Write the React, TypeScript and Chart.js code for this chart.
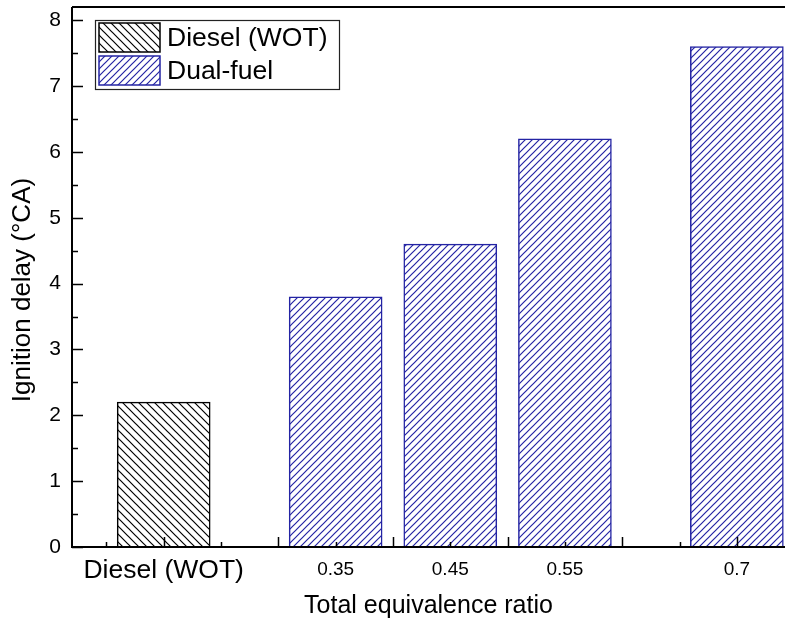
import React, { useEffect, useRef } from 'react';
import { Chart, registerables } from 'chart.js';

Chart.register(...registerables);

// ---- data ----
const categories = ['Diesel (WOT)', '0.35', '0.45', '0.55', '0.7'];
const xSlots = [1, 2.5, 3.5, 4.5, 6];
const dieselValues = [2.2];
const dualFuelValues = [3.8, 4.6, 6.2, 7.6];
const yTickValues = [0, 1, 2, 3, 4, 5, 6, 7, 8];
const seriesLabels = ['Diesel (WOT)', 'Dual-fuel'];
const xTitle = 'Total equivalence ratio';
const yTitle = 'Ignition delay (\u00B0CA)';

const FONT = "'Liberation Sans', Arial, sans-serif";
const BLUE = '#2424a4';

function hatch(color: string, dir: '/' | '\\', s: number): CanvasPattern | string {
  const c = document.createElement('canvas');
  c.width = s;
  c.height = s;
  const g = c.getContext('2d');
  if (!g) return color;
  g.fillStyle = '#ffffff';
  g.fillRect(0, 0, s, s);
  g.strokeStyle = color;
  g.lineWidth = 1.2;
  g.beginPath();
  if (dir === '/') {
    g.moveTo(-1, s + 1); g.lineTo(s + 1, -1);
    g.moveTo(-1, 1); g.lineTo(1, -1);
    g.moveTo(s - 1, s + 1); g.lineTo(s + 1, s - 1);
  } else {
    g.moveTo(-1, -1); g.lineTo(s + 1, s + 1);
    g.moveTo(s - 1, -1); g.lineTo(s + 1, 1);
    g.moveTo(-1, s - 1); g.lineTo(1, s + 1);
  }
  g.stroke();
  const p = g.createPattern(c, 'repeat');
  return p || color;
}

const framePlugin = {
  id: 'frameTicks',
  afterDatasetsDraw(chart: any) {
    const { ctx, chartArea: a, scales } = chart;
    const x = scales.x;
    const y = scales.y;
    ctx.save();
    ctx.strokeStyle = '#000';
    ctx.lineWidth = 1.5;
    ctx.beginPath();
    for (let v = Math.ceil(x.min * 2) / 2; v <= x.max + 1e-9; v += 0.5) {
      const px = Math.round(x.getPixelForValue(v)) + 0.5;
      const len = Math.abs(v - Math.round(v)) < 1e-9 ? 10 : 5;
      ctx.moveTo(px, a.bottom);
      ctx.lineTo(px, a.bottom - len);
    }
    for (let v = 0; v <= y.max + 1e-9; v += 0.5) {
      const py = Math.round(y.getPixelForValue(v)) + 0.5;
      const len = Math.abs(v - Math.round(v)) < 1e-9 ? 11 : 6;
      ctx.moveTo(a.left, py);
      ctx.lineTo(a.left + len, py);
    }
    ctx.stroke();
    ctx.lineWidth = 2;
    ctx.beginPath();
    ctx.moveTo(a.left, a.top);
    ctx.lineTo(a.right, a.top);
    ctx.moveTo(a.left, a.top);
    ctx.lineTo(a.left, a.bottom);
    ctx.lineTo(a.right, a.bottom);
    ctx.stroke();
    ctx.restore();
  },
  afterDraw(chart: any) {
    const { ctx, chartArea: a } = chart;
    // y-axis title
    ctx.save();
    ctx.translate(23, (a.top + a.bottom) / 2 + 13);
    ctx.rotate(-Math.PI / 2);
    ctx.fillStyle = '#000';
    ctx.font = `26px ${FONT}`;
    ctx.textAlign = 'center';
    ctx.textBaseline = 'middle';
    ctx.fillText(yTitle, 0, 0);
    ctx.restore();

    // legend
    const bx = a.left + 23;
    const by = a.top + 13;
    const bw = 244;
    const bh = 69;
    ctx.save();
    ctx.fillStyle = '#fff';
    ctx.fillRect(bx, by, bw, bh);
    ctx.strokeStyle = '#222';
    ctx.lineWidth = 1.2;
    ctx.strokeRect(bx + 0.5, by + 0.5, bw, bh);
    chart.data.datasets.forEach((ds: any, i: number) => {
      const sx = bx + 4;
      const sy = by + 3 + i * 33;
      const sw = 61;
      const sh = 29;
      ctx.fillStyle = ds.backgroundColor;
      ctx.fillRect(sx, sy, sw, sh);
      ctx.strokeStyle = ds.borderColor;
      ctx.lineWidth = 1.5;
      ctx.strokeRect(sx, sy, sw, sh);
      ctx.fillStyle = '#000';
      ctx.font = `26.5px ${FONT}`;
      ctx.textBaseline = 'middle';
      ctx.textAlign = 'left';
      ctx.fillText(ds.label, sx + sw + 7, sy + sh / 2 + 1);
    });
    ctx.restore();
  },
};

export default function App() {
  const ref = useRef<HTMLCanvasElement | null>(null);

  useEffect(() => {
    document.body.style.margin = '0';
    const canvas = ref.current;
    if (!canvas) return;
    const dieselFill = hatch('#000000', '\\', 8);
    const dualFill = hatch(BLUE, '/', 7);

    const chart = new Chart(canvas, {
      type: 'bar',
      data: {
        datasets: [
          {
            label: seriesLabels[0],
            data: dieselValues.map((v, i) => ({ x: xSlots[i], y: v })),
            backgroundColor: dieselFill as any,
            borderColor: '#000000',
            borderWidth: 1.5,
            barThickness: 93,
            grouped: false,
          } as any,
          {
            label: seriesLabels[1],
            data: dualFuelValues.map((v, i) => ({ x: xSlots[i + 1], y: v })),
            backgroundColor: dualFill as any,
            borderColor: BLUE,
            borderWidth: 1.5,
            barThickness: 93,
            grouped: false,
          } as any,
        ],
      },
      options: {
        animation: false,
        responsive: false,
        devicePixelRatio: 1,
        layout: { padding: { top: 7, left: 0, right: 0, bottom: 0 } },
        plugins: { legend: { display: false }, tooltip: { enabled: false } },
        scales: {
          x: {
            type: 'linear',
            offset: false,
            min: 0.2,
            max: 6.42,
            grid: { display: false, drawTicks: false, offset: false },
            border: { display: false },
            afterBuildTicks: (s: any) => {
              s.ticks = xSlots.map((v) => ({ value: v }));
            },
            afterFit: (s: any) => {
              s.height = 74;
              s.paddingLeft = 0;
              s.paddingRight = 0;
            },
            ticks: {
              autoSkip: false,
              maxRotation: 0,
              minRotation: 0,
              padding: 10,
              color: '#000',
              callback: (_v: any, i: number) => categories[i],
              font: (ctx: any) =>
                ctx.index === 0
                  ? { family: FONT, size: 26.5, lineHeight: 1 }
                  : { family: FONT, size: 19, lineHeight: 26.5 / 19 },
            },
            title: {
              display: true,
              text: xTitle,
              color: '#000',
              font: { family: FONT, size: 25 },
              padding: { top: 0, bottom: 0 },
            },
          } as any,
          y: {
            type: 'linear',
            min: 0,
            max: 8.2,
            grid: { display: false, drawTicks: false },
            border: { display: false },
            afterBuildTicks: (s: any) => {
              s.ticks = yTickValues.map((v) => ({ value: v }));
            },
            afterFit: (s: any) => {
              s.width = 72;
              s.paddingTop = 0;
              s.paddingBottom = 0;
            },
            ticks: {
              padding: 11,
              color: '#000',
              font: { family: FONT, size: 21 },
              callback: (v: any) => String(v),
            },
            title: { display: false },
          } as any,
        },
      },
      plugins: [framePlugin],
    });
    return () => chart.destroy();
  }, []);

  return (
    <div style={{ width: 785, height: 621 }}>
      <canvas ref={ref} width={785} height={621} style={{ display: 'block' }} />
    </div>
  );
}
